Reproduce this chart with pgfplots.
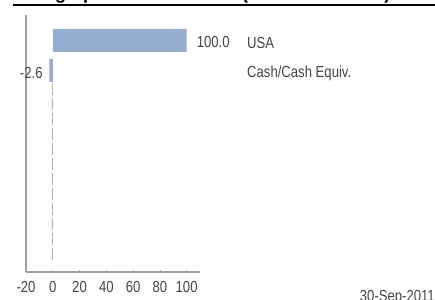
\documentclass[border=0pt]{standalone}
\usepackage{pgfplots}
\pgfplotsset{compat=1.18}
\usepackage{fontspec}
\setmainfont{Liberation Sans}
\newfontfamily\narrow{Liberation Sans}[FakeStretch=0.82]
\definecolor{barblue}{RGB}{149,174,207}
\definecolor{txt}{RGB}{68,68,68}
\definecolor{axgray}{RGB}{160,160,160}
\begin{document}
\begin{tikzpicture}
\useasboundingbox (0,0) rectangle (435bp,-300bp);
% clipped title (only descenders visible)
\node[anchor=base west, inner sep=0, font=\fontsize{18bp}{20bp}\selectfont\bfseries] at (20bp,0.5bp) {Geographical Breakdown (\% of Net Assets)};
\draw[line width=1.5bp] (13bp,-5bp) -- (435bp,-5bp);
\begin{axis}[
  scale only axis, width=174bp, height=257bp,
  at={(26bp,-272bp)}, anchor=south west,
  xmin=-20, xmax=110, ymin=-7.72, ymax=0.85,
  axis x line*=bottom, axis y line*=left,
  axis line style={axgray, line width=1.3bp, -},
  xtick={-20,0,20,40,60,80,100}, ytick=\empty,
  tick style={axgray, line width=0.6bp}, major tick length=2bp,
  tick align=inside,
  xticklabel style={font=\narrow\fontsize{16bp}{18bp}\selectfont, text=txt, anchor=base, yshift=-20bp},
  /pgf/number format/assume math mode=true,
  clip=false,
]
\addplot[xbar, bar width=23bp, fill=barblue, draw=none] coordinates {(100,0) (-2.6,-1)};
\addplot[axgray!80, line width=0.6bp, dash pattern=on 12bp off 3bp] coordinates {(0,-1.42) (0,-7.38)};
\node[anchor=base west, inner sep=0, xshift=10bp, yshift=-7.5bp, text=txt, font=\narrow\fontsize{16bp}{18bp}\selectfont] at (axis cs:100,0) {100.0};
\node[anchor=base east, inner sep=0, xshift=-6.5bp, yshift=-8bp, text=txt, font=\narrow\fontsize{16bp}{18bp}\selectfont] at (axis cs:-2.6,-1) {-2.6};
\node[anchor=base west, inner sep=0, yshift=-8.5bp, text=txt, font=\narrow\fontsize{16bp}{18bp}\selectfont] at (axis cs:145.1,0) {USA};
\node[anchor=base west, inner sep=0, yshift=-7.5bp, text=txt, font=\narrow\fontsize{16bp}{18bp}\selectfont] at (axis cs:145.1,-1) {Cash/Cash Equiv.};
\end{axis}
\node[anchor=base east, inner sep=0, text=txt, font=\narrow\fontsize{16bp}{18bp}\selectfont] at (435bp,-301bp) {30-Sep-2011};
\end{tikzpicture}
\end{document}
